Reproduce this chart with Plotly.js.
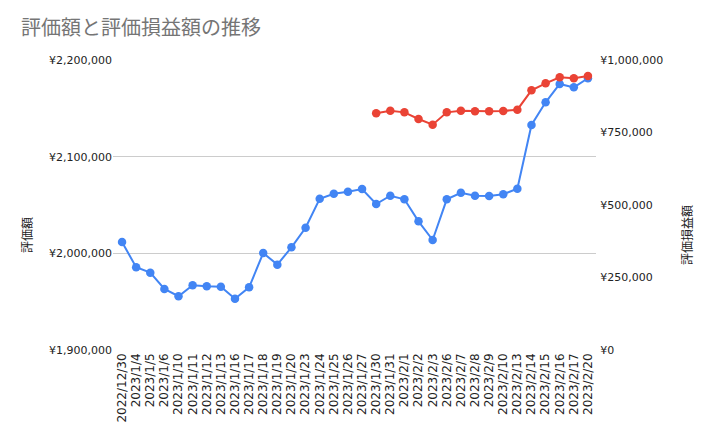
<!DOCTYPE html>
<html>
<head>
<meta charset="utf-8">
<script src="https://cdn.plot.ly/plotly-3.0.1.min.js"></script>
<style>html,body{margin:0;padding:0;background:#fff;}#chart{width:714px;height:436px;}</style>
</head>
<body>
<div id="chart"></div>
<script>
const dates = ["2022/12/30","2023/1/4","2023/1/5","2023/1/6","2023/1/10","2023/1/11","2023/1/12","2023/1/13","2023/1/16","2023/1/17","2023/1/18","2023/1/19","2023/1/20","2023/1/23","2023/1/24","2023/1/25","2023/1/26","2023/1/27","2023/1/30","2023/1/31","2023/2/1","2023/2/2","2023/2/3","2023/2/6","2023/2/7","2023/2/8","2023/2/9","2023/2/10","2023/2/13","2023/2/14","2023/2/15","2023/2/16","2023/2/17","2023/2/20"];
const valuation = [2011700,1985600,1980000,1963100,1955600,1966900,1965900,1965500,1953100,1964900,2000300,1988300,2006200,2026500,2056500,2061700,2063800,2066500,2051000,2059600,2055900,2033100,2013800,2055900,2062700,2059600,2059300,2061100,2066900,2132800,2156200,2175200,2171700,2181100];
const profitLoss = [null,null,null,null,null,null,null,null,null,null,null,null,null,null,null,null,null,null,816100,825300,819500,796600,777000,819500,825300,823100,823100,824100,828700,895400,919500,940300,936800,944800];
const leftTicks = [1900000,2000000,2100000,2200000];
const leftTickText = ["¥1,900,000","¥2,000,000","¥2,100,000","¥2,200,000"];
const rightTicks = [0,250000,500000,750000,1000000];
const rightTickText = ["¥0","¥250,000","¥500,000","¥750,000","¥1,000,000"];
const titleText = "評価額と評価損益額の推移";
const leftTitle = "評価額";
const rightTitle = "評価損益額";

const tickFont = {family: "DejaVu Sans, Liberation Sans, Arial, sans-serif", size: 11, color: "#222222"};
const cjk = "Noto Sans CJK JP, sans-serif";

const traces = [
  {x: dates, y: valuation, type: "scatter", mode: "lines+markers", yaxis: "y",
   line: {color: "#4285F4", width: 2}, marker: {color: "#4285F4", size: 8.5}, name: leftTitle, cliponaxis: false},
  {x: dates, y: profitLoss, type: "scatter", mode: "lines+markers", yaxis: "y2",
   line: {color: "#EA4335", width: 2}, marker: {color: "#EA4335", size: 8.5}, name: rightTitle, connectgaps: false, cliponaxis: false}
];

const layout = {
  width: 714, height: 436,
  margin: {l: 113, r: 118, t: 60, b: 86, pad: 0},
  paper_bgcolor: "#ffffff", plot_bgcolor: "#ffffff",
  showlegend: false,
  title: {text: titleText, font: {family: cjk, size: 20, color: "#757575"},
          x: 21/714, xanchor: "left", xref: "container", y: 1 - 28/436, yanchor: "middle", yref: "container"},
  xaxis: {type: "category", range: [-0.64, 33.57], tickmode: "array", tickvals: dates, ticktext: dates, tickangle: -90,
          tickfont: {family: tickFont.family, size: 12, color: "#222222"},
          showgrid: false, zeroline: false, showline: false, ticks: "", fixedrange: true},
  yaxis: {range: [1900000, 2200000], tickvals: leftTicks, ticktext: leftTickText, tickfont: tickFont,
          showgrid: true, gridcolor: "#cccccc", gridwidth: 1, zeroline: false, showline: false, ticks: "", ticklen: 0},
  yaxis2: {range: [0, 1000000], tickvals: rightTicks, ticktext: rightTickText, tickfont: tickFont, overlaying: "y", side: "right",
           showgrid: false, zeroline: false, showline: false, ticks: "outside", ticklen: 1, tickcolor: "rgba(0,0,0,0)"},
  annotations: [
    {text: leftTitle, xref: "paper", yref: "paper", x: (26-113)/483, y: (350-235)/290, textangle: -90,
     showarrow: false, font: {family: cjk, size: 12, color: "#222222"}, xanchor: "center", yanchor: "middle"},
    {text: rightTitle, xref: "paper", yref: "paper", x: (686-113)/483, y: (350-235)/290, textangle: -90,
     showarrow: false, font: {family: cjk, size: 12, color: "#222222"}, xanchor: "center", yanchor: "middle"}
  ]
};

Plotly.newPlot("chart", traces, layout, {staticPlot: true, displayModeBar: false});
</script>
</body>
</html>
